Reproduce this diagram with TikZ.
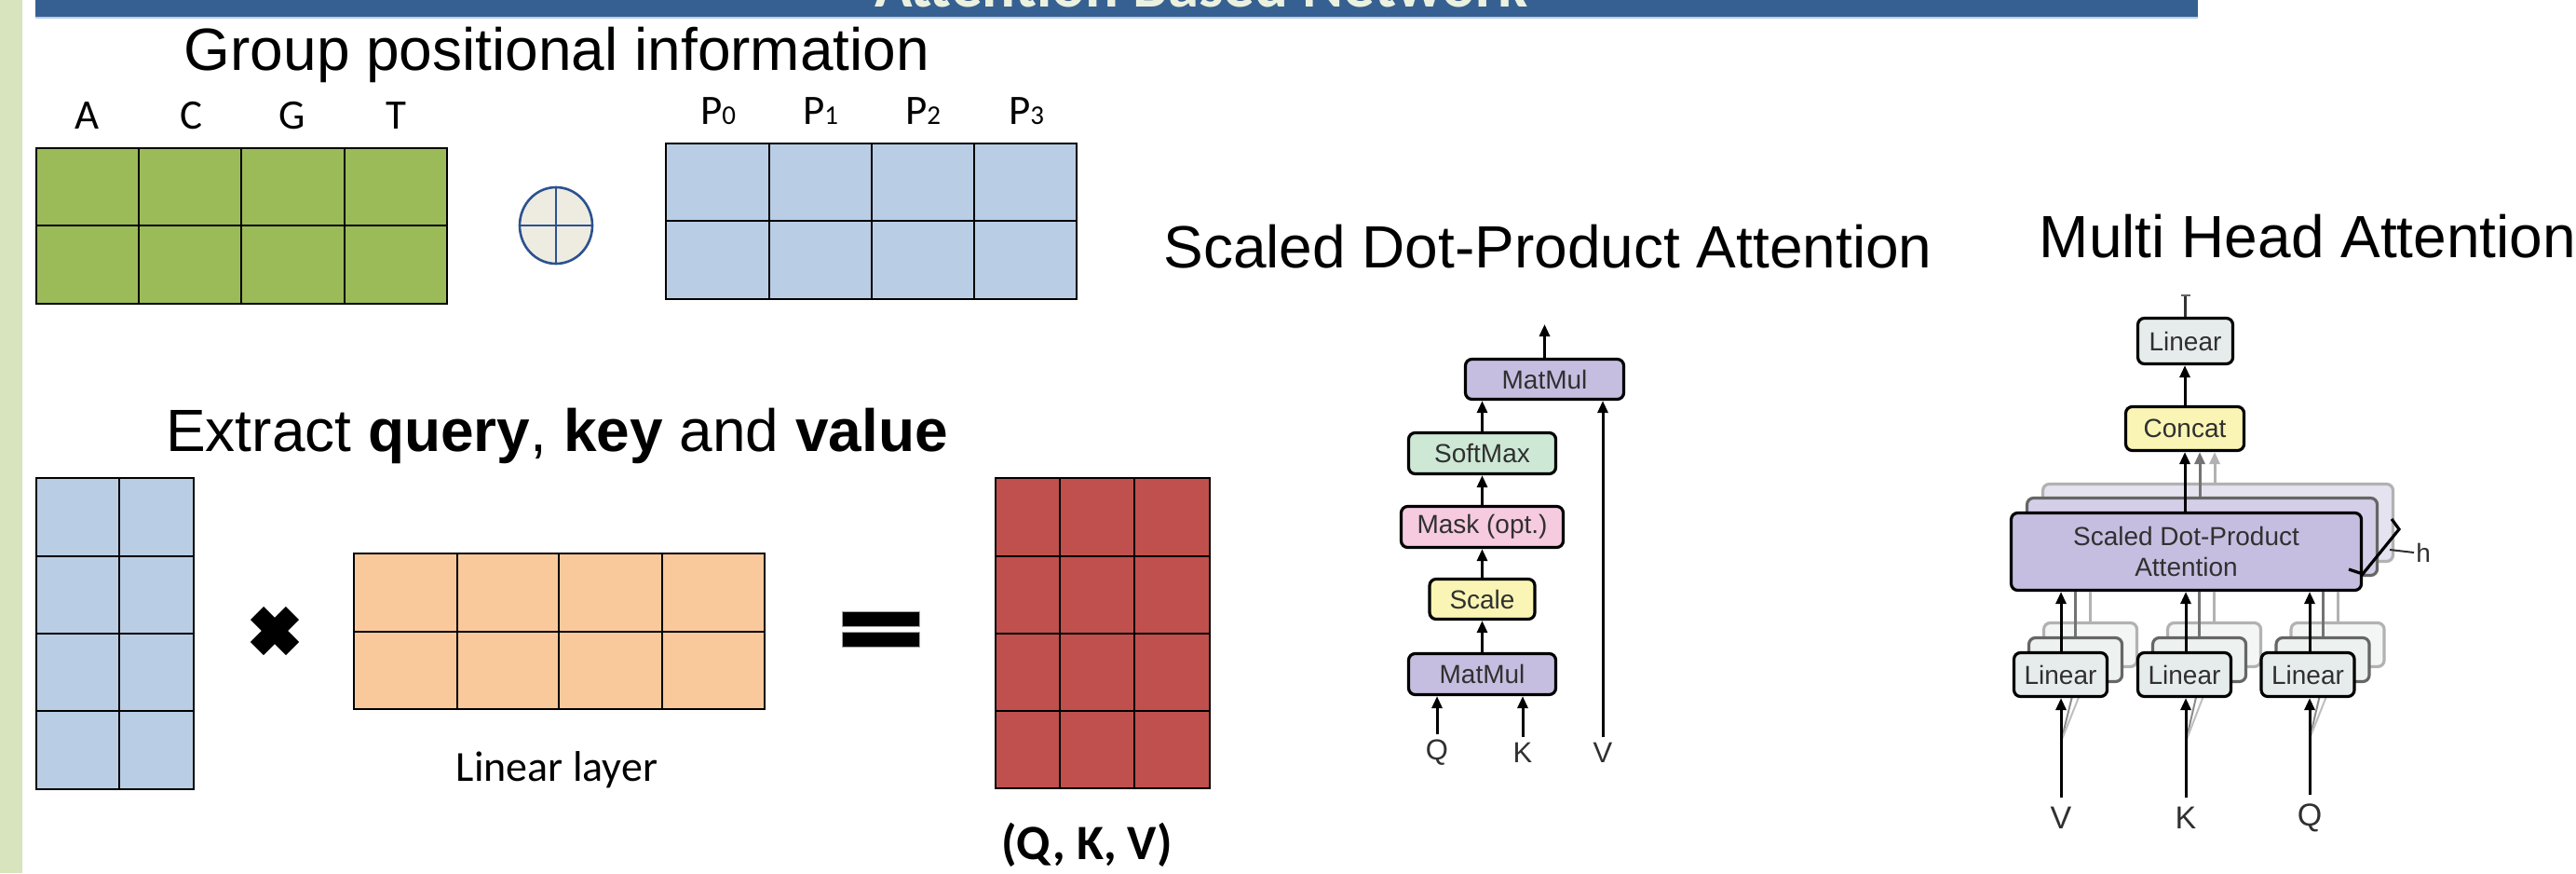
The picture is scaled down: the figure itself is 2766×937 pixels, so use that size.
\documentclass[tikz,border=0pt]{standalone}
\usepackage{fontspec}
\setmainfont{Liberation Sans}
\newfontfamily\calibri{Carlito}
\usetikzlibrary{arrows.meta,shapes.geometric}
\definecolor{barblue}{HTML}{376092}
\definecolor{stripgreen}{HTML}{D7E4BD}
\definecolor{bartext}{HTML}{EBF1DE}
\definecolor{tgreen}{HTML}{9BBB59}
\definecolor{tblue}{HTML}{B9CDE5}
\definecolor{torange}{HTML}{F9C99B}
\definecolor{tred}{HTML}{C0504D}
\definecolor{oplusfill}{HTML}{EEECE1}
\definecolor{oplusline}{HTML}{2B5290}
\definecolor{lav}{HTML}{C5BEE0}
\definecolor{lavb}{HTML}{D4CEE8}
\definecolor{lavc}{HTML}{E6E3F1}
\definecolor{mint}{HTML}{CDE8D4}
\definecolor{pinkm}{HTML}{F6CADF}
\definecolor{yell}{HTML}{FAF5B4}
\definecolor{lingray}{HTML}{E6ECEB}
\definecolor{lingrayb}{HTML}{EDF1F0}
\definecolor{lingrayc}{HTML}{F4F6F6}
\definecolor{dtext}{HTML}{303030}
\begin{document}
\begin{tikzpicture}[x=0.5pt,y=-0.5pt,
  tcell/.style={draw=black, line width=1.1pt},
  dbox/.style={draw=black, line width=1.6pt, rounded corners=3.5pt, inner sep=0pt,
    text=dtext, font=\fontsize{14}{16.5}\selectfont},
  backA/.style={dbox, draw=black!60, text opacity=0},
  backB/.style={dbox, draw=black!30, text opacity=0},
  arr/.style={-{Triangle[length=6.5pt,width=5.5pt]}, line width=1.5pt, draw=black},
  garrA/.style={arr, draw=black!55, -{Triangle[length=6.5pt,width=5.5pt,fill=black!55]}},
  garrB/.style={arr, draw=black!30, -{Triangle[length=6.5pt,width=5.5pt,fill=black!30]}},
  glineA/.style={line width=1.5pt, draw=black!55},
  glineB/.style={line width=1.5pt, draw=black!30},
  sectitle/.style={font=\fontsize{32}{38}\selectfont, anchor=base, inner sep=0pt},
  clabel/.style={font=\calibri\fontsize{22.5}{26}\selectfont, anchor=base, inner sep=0pt},
  inlabel/.style={text=dtext, inner sep=3pt}
]
\useasboundingbox (0,0) rectangle (2766,937);
\fill[white] (0,0) rectangle (2766,937);

% left strip and title bar
\fill[stripgreen] (0,0) rectangle (24,937);
\fill[barblue] (38,0) rectangle (2360,18);
\draw[tblue, line width=0.6pt] (38,19) -- (2360,19);
\begin{scope}
  \clip (38,0) rectangle (2360,18);
  \node[font=\calibri\bfseries\fontsize{33.5}{40}\selectfont, text=bartext, anchor=base, inner sep=0pt] (bartitle) at (1290,7) {Attention Based Network};
\end{scope}

% ---------- Group positional information ----------
\node[sectitle] (t1) at (598,75) {Group positional information};

\fill[tgreen] (39,159) rectangle (480,326);
\draw[tcell] (39,159) rectangle (480,326);
\draw[tcell] (149,159) -- (149,326) (259,159) -- (259,326) (370,159) -- (370,326) (39,242) -- (480,242);
\node[clabel] (la) at (94,138) {A};
\node[clabel] (lc) at (205,138) {C};
\node[clabel] (lg) at (314,138) {G};
\node[clabel] (lt) at (425,138) {T};

\node[ellipse, draw=oplusline, fill=oplusfill, line width=1.3pt, minimum width=39pt, minimum height=41pt, inner sep=0pt] (oplus) at (597,242) {};
\draw[oplusline, line width=1.3pt] (oplus.north) -- (oplus.south) (oplus.west) -- (oplus.east);

\fill[tblue] (715,154) rectangle (1156,321);
\draw[tcell] (715,154) rectangle (1156,321);
\draw[tcell] (826,154) -- (826,321) (936,154) -- (936,321) (1046,154) -- (1046,321) (715,237) -- (1156,237);
\node[clabel] (p0) at (771,133) {P{\fontsize{14.5}{16}\selectfont 0}};
\node[clabel] (p1) at (881,133) {P{\fontsize{14.5}{16}\selectfont 1}};
\node[clabel] (p2) at (991,133) {P{\fontsize{14.5}{16}\selectfont 2}};
\node[clabel] (p3) at (1102,133) {P{\fontsize{14.5}{16}\selectfont 3}};

% ---------- Extract query, key and value ----------
\node[sectitle] (t2) at (598,484) {Extract \textbf{query}, \textbf{key} and \textbf{value}};

\fill[tblue] (39,513) rectangle (208,847);
\draw[tcell] (39,513) rectangle (208,847);
\draw[tcell] (128,513) -- (128,847) (39,597) -- (208,597) (39,680) -- (208,680) (39,763) -- (208,763);

% multiply sign
\draw[line width=10pt] (276,658) -- (314,696) (276,696) -- (314,658);

\fill[torange] (380,594) rectangle (821,761);
\draw[tcell] (380,594) rectangle (821,761);
\draw[tcell] (491,594) -- (491,761) (600,594) -- (600,761) (711,594) -- (711,761) (380,678) -- (821,678);
\node[font=\calibri\fontsize{23}{27}\selectfont, anchor=base, inner sep=0pt] (linlayer) at (598,838) {Linear layer};

% equal sign
\fill[black, draw=black!35, line width=0.5pt] (904,656) rectangle (987,672);
\fill[black, draw=black!35, line width=0.5pt] (904,678) rectangle (987,694);

\fill[tred] (1069,513) rectangle (1299,846);
\draw[tcell] (1069,513) rectangle (1299,846);
\draw[tcell] (1138,513) -- (1138,846) (1218,513) -- (1218,846) (1069,597) -- (1299,597) (1069,680) -- (1299,680) (1069,763) -- (1299,763);
\node[font=\calibri\bfseries\fontsize{26.5}{31}\selectfont, anchor=base, inner sep=0pt] (qkv) at (1167,922) {(Q, K, V)};

% ---------- Scaled Dot-Product Attention ----------
\node[sectitle] (t3) at (1662,287) {Scaled Dot-Product Attention};

\node[dbox, fill=lav, minimum width=85pt, minimum height=21.5pt] (mmtop) at (1658.5,407) {MatMul};
\node[dbox, fill=mint, minimum width=79pt, minimum height=22pt] (softmax) at (1591.5,486.5) {SoftMax};
\node[dbox, fill=pinkm, minimum width=87pt, minimum height=22pt] (mask) at (1591.5,565.5) {Mask (opt.)};
\node[dbox, fill=yell, minimum width=56.5pt, minimum height=21.5pt] (scale) at (1591.5,643) {Scale};
\node[dbox, fill=lav, minimum width=79pt, minimum height=22pt] (mmbot) at (1591.5,723.5) {MatMul};

\node[inlabel, font=\fontsize{15.5}{18}\selectfont] (sq) at (1543,808) {Q};
\node[inlabel, font=\fontsize{15.5}{18}\selectfont] (sk) at (1635,808) {K};
\node[inlabel, font=\fontsize{15.5}{18}\selectfont] (sv) at (1721,808) {V};
\coordinate (sout) at (1658.5,348);

\draw[arr] (sq.north) -- (sq.north |- mmbot.south);
\draw[arr] (sk.north) -- (sk.north |- mmbot.south);
\draw[arr] (sv.north) -- (sv.north |- mmtop.south);
\draw[arr] (mmbot.north) -- (scale.south);
\draw[arr] (scale.north) -- (mask.south);
\draw[arr] (mask.north) -- (softmax.south);
\draw[arr] (softmax.north) -- (softmax.north |- mmtop.south);
\draw[arr] (mmtop.north) -- (sout);

% ---------- Multi Head Attention ----------
\node[sectitle] (t4) at (2478,276) {Multi Head Attention};

\node[dbox, fill=lingray, minimum width=51pt, minimum height=24.5pt] (mlin) at (2346.5,366) {Linear};
\node[dbox, fill=yell, minimum width=63.5pt, minimum height=23.5pt] (concat) at (2346,460) {Concat};
\coordinate (mout) at (2346.5,317);
\draw[line width=1.5pt, draw=black!80] (mlin.north) -- (mout);
\draw[line width=1pt, draw=black!60] ([xshift=-2.5pt]mout) -- ([xshift=2.5pt]mout);
\draw[arr] (concat.north) -- (concat.north |- mlin.south);

% stacked attention heads
\node[backB, fill=lavc, minimum width=188pt, minimum height=41.5pt] (sdpa3) at (2381.5,561) {};
\node[backA, fill=lavb, minimum width=188pt, minimum height=41.5pt] (sdpa2) at (2364.5,576) {};

% stacked linear layers
\foreach \n/\x in {v/2212.5, k/2345.5, q/2478}{
  \node[backB, fill=lingrayc, minimum width=50pt, minimum height=23.5pt] (lin\n3) at (\x+32,692) {};
  \node[backA, fill=lingrayb, minimum width=50pt, minimum height=23.5pt] (lin\n2) at (\x+16,708) {};
}

% main attention box
\node[dbox, fill=lav, minimum width=188pt, minimum height=41.5pt, align=center] (sdpa) at (2347.5,592) {Scaled Dot-Product\\Attention};

% gray connectors of the back heads
\foreach \n in {v,k,q}{
  \draw[glineB] (lin\n3.north) -- (lin\n3.north |- sdpa.south);
  \draw[glineA] (lin\n2.north) -- (lin\n2.north |- sdpa.south);
}
\draw[garrB] ([xshift=16pt]concat.south |- sdpa3.north) -- ([xshift=16pt]concat.south);
\draw[garrA] ([xshift=8pt]concat.south |- sdpa2.north) -- ([xshift=8pt]concat.south);
\draw[arr] (concat.south |- sdpa.north) -- (concat.south);

% input labels
\node[inlabel, inner sep=5pt, font=\fontsize{17}{20}\selectfont] (mv) at (2213,878) {V};
\node[inlabel, inner sep=5pt, font=\fontsize{17}{20}\selectfont] (mk) at (2347,878) {K};
\node[inlabel, inner sep=5pt, font=\fontsize{17}{20}\selectfont] (mq) at (2480,878) {Q};

% faint forks toward back linear layers
\foreach \n/\m in {v/mv, k/mk, q/mq}{
  \draw[line width=1pt, draw=black!45] ([yshift=30pt]\m.north) -- (lin\n2.south);
  \draw[line width=1pt, draw=black!25] ([yshift=30pt]\m.north) -- (lin\n3.south);
}

% main linear layers
\node[dbox, fill=lingray, minimum width=50pt, minimum height=23.5pt] (linv) at (2212.5,724) {Linear};
\node[dbox, fill=lingray, minimum width=50pt, minimum height=23.5pt] (link) at (2345.5,724) {Linear};
\node[dbox, fill=lingray, minimum width=50pt, minimum height=23.5pt] (linq) at (2478,724) {Linear};

\draw[arr] (mv.north) -- (mv.north |- linv.south);
\draw[arr] (mk.north) -- (mk.north |- link.south);
\draw[arr] (mq.north) -- (mq.north |- linq.south);
\draw[arr] (linv.north -| mv.north) -- (mv.north |- sdpa.south);
\draw[arr] (link.north -| mk.north) -- (mk.north |- sdpa.south);
\draw[arr] (linq.north -| mq.north) -- (mq.north |- sdpa.south);

% h bracket
\coordinate (hb1) at (2568,557);
\coordinate (hb2) at (2576,568);
\coordinate (hb3) at (2537,616);
\coordinate (hb4) at (2522,611);
\draw[line width=1.6pt] (hb1) -- (hb2) -- (hb3) -- (hb4);
\node[text=dtext, font=\fontsize{14}{16}\selectfont, inner sep=1pt, anchor=west] (hlab) at (2592,593) {h};
\draw[line width=1pt, draw=dtext] (2566,590) -- (hlab.west);
\end{tikzpicture}
\end{document}
